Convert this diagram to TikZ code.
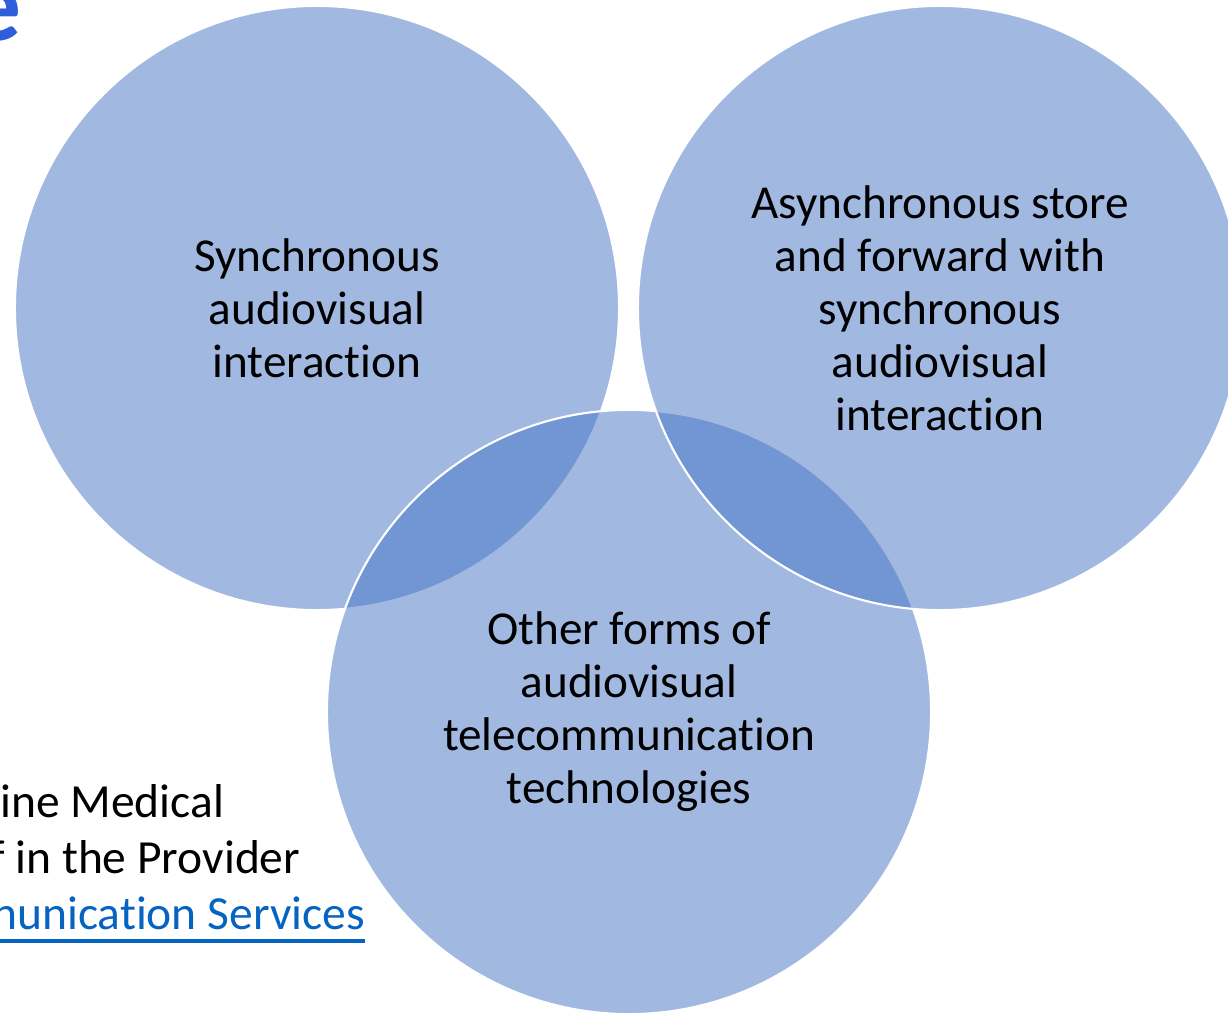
\documentclass[tikz,border=0pt]{standalone}
\usepackage{fontspec}
\setmainfont{Carlito}[Ligatures={NoCommon}]
\usetikzlibrary{calc}

\definecolor{vennblue}{RGB}{68,114,196}
\definecolor{titleblue}{RGB}{47,94,218}
\definecolor{linkblue}{RGB}{5,99,193}

\tikzset{
    venn/.style={circle,fill=vennblue,fill opacity=0.5,draw=white,line width=1.5pt,
        minimum size=15.1cm,inner sep=0pt,outer sep=0pt},
    vennlabel/.style={align=center,inner sep=0pt,font=\fontsize{33.6}{37.7}\selectfont},
    sidetext/.style={anchor=base west,inner sep=0pt,font=\fontsize{33.8}{37.7}\selectfont}
}

\begin{document}
\begin{tikzpicture}[x=0.025cm,y=-0.025cm]
    \clip (0,0) rectangle (1228,1013);
    \node [venn] (sync) at (317,308) {};
    \node [venn] (other) at (629,712) {};
    \node [venn] (async) at (940,308) {};
    \node [vennlabel] (synctext) at (sync.center) {Synchronous\\audiovisual\\interaction};
    \node [vennlabel] (asynctext) at (async.center) {Asynchronous store\\and forward with\\synchronous\\audiovisual\\interaction};
    \node [vennlabel] (othertext) at (other.center) {Other forms of\\audiovisual\\telecommunication\\technologies};
    \node [anchor=base east,inner sep=0pt,text=titleblue,font=\fontsize{75}{80}\selectfont\bfseries] (title) at (22,40) {e};
    \node [sidetext] (line1) at (0,817) {ine Medical};
    \node [sidetext] (line2) at (-10,873) {f in the Provider};
    \node [sidetext,text=linkblue] (line3) at (-8,929) {nunication Services};
    \draw [linkblue,line width=2.2pt] ([yshift=-0.3cm]line3.base west) -- ([yshift=-0.3cm]line3.base east);
\end{tikzpicture}
\end{document}
